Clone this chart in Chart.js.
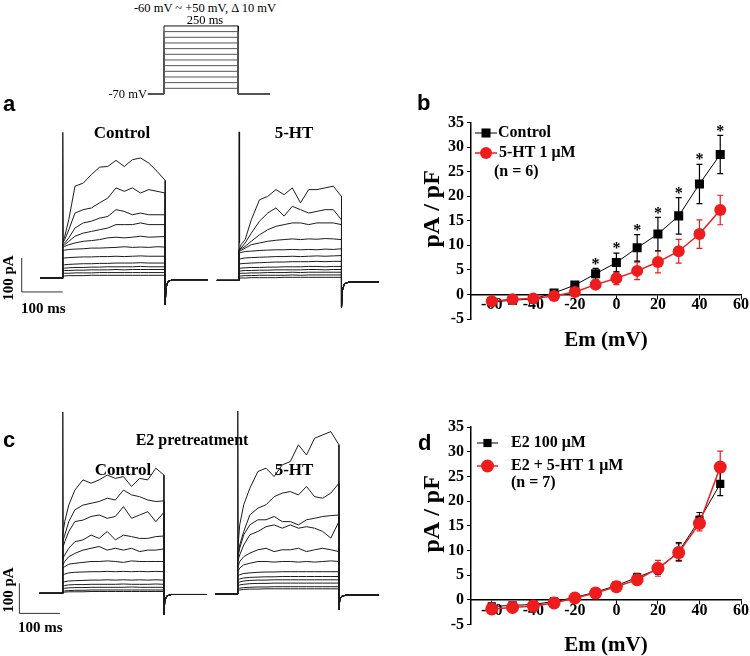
<!doctype html>
<html>
<head>
<meta charset="utf-8">
<script src="https://cdn.jsdelivr.net/npm/chart.js@4.4.1/dist/chart.umd.min.js"></script>
<style>
body { margin: 0; background: #fff; }
#fig { position: relative; width: 750px; height: 656px; overflow: hidden; font-family: 'Liberation Serif', serif; color: #000; }
#fig canvas { position: absolute; }
.t { position: absolute; white-space: nowrap; line-height: 1; }
.c { transform: translate(-50%, -50%); }
.lab { font-family: 'Liberation Sans', Arial, sans-serif; font-weight: bold; font-size: 22px; transform: translate(0, -50%); }
.hd { font-weight: bold; font-size: 17px; }
.pr { font-size: 12.5px; }
.sb { font-weight: bold; font-size: 15px; }
</style>
</head>
<body>
<div id="fig">
	<canvas id="proto" width="140" height="80" style="left:140px;top:20px"></canvas>
	<canvas id="rowA" width="390" height="220" style="left:0;top:100px"></canvas>
	<canvas id="rowC" width="390" height="235" style="left:0;top:400px"></canvas>
	<canvas id="ivB" width="340" height="245" style="left:410px;top:110px"></canvas>
	<canvas id="ivD" width="340" height="246" style="left:410px;top:410px"></canvas>

	<div class="t pr c" style="left:205px;top:8px">-60 mV ~ +50 mV, &Delta; 10 mV</div>
	<div class="t pr c" style="left:205px;top:20px">250 ms</div>
	<div class="t pr" style="left:147px;top:94px;transform:translate(-100%,-50%)">-70 mV</div>

	<div class="t lab" style="left:3px;top:104px">a</div>
	<div class="t lab" style="left:417px;top:103px">b</div>
	<div class="t lab" style="left:3px;top:440px">c</div>
	<div class="t lab" style="left:418px;top:443px">d</div>

	<div class="t hd c" style="left:122px;top:132px">Control</div>
	<div class="t hd c" style="left:294px;top:132px">5-HT</div>
	<div class="t hd c" style="left:192px;top:440px;font-size:16px">E2 pretreatment</div>
	<div class="t hd c" style="left:123px;top:469px">Control</div>
	<div class="t hd c" style="left:294px;top:469px">5-HT</div>

	<div class="t sb c" style="left:8px;top:278px;transform:translate(-50%,-50%) rotate(-90deg)">100 pA</div>
	<div class="t sb" style="left:21px;top:308px;transform:translate(0,-50%)">100 ms</div>
	<div class="t sb c" style="left:8px;top:590px;transform:translate(-50%,-50%) rotate(-90deg)">100 pA</div>
	<div class="t sb" style="left:18px;top:627px;transform:translate(0,-50%)">100 ms</div>
</div>
<script>
// voltage protocol
var stepLevels = [-60, -50, -40, -30, -20, -10, 0, 10, 20, 30, 40, 50];
var holdV = -70;
var protoT = [-54, 0, 250, 357];

// current traces (pA above holding level), sampled at stepT (ms after step onset)
var stepT = [0, 5, 15, 30, 50, 70, 90, 110, 130, 150, 170, 190, 210, 230, 250];
var tailT = [250, 252, 257, 268];

var aCtrl = [
	[103, 123, 172, 270, 279, 304, 326, 328, 346, 328, 348, 353, 338, 314, 287],
	[103, 113, 142, 191, 201, 206, 221, 235, 265, 255, 265, 250, 260, 255, 250],
	[98, 103, 118, 147, 162, 167, 176, 181, 201, 196, 186, 191, 186, 186, 186],
	[93, 98, 108, 123, 132, 137, 142, 147, 157, 157, 157, 162, 157, 157, 157],
	[88, 93, 98, 103, 108, 110, 113, 118, 120, 118, 120, 123, 120, 121, 122],
	[80, 82, 84, 85, 86, 88, 88, 89, 90, 92, 90, 91, 90, 92, 91],
	[58, 59, 60, 61, 62, 62, 63, 63, 64, 63, 64, 65, 64, 64, 64],
	[38, 39, 40, 41, 42, 42, 43, 43, 44, 44, 44, 45, 44, 44, 44],
	[28, 29, 30, 31, 31, 32, 32, 33, 33, 33, 33, 34, 33, 33, 33],
	[21, 22, 22, 23, 23, 24, 24, 24, 25, 24, 25, 25, 25, 25, 25],
	[13, 14, 14, 15, 15, 15, 16, 16, 16, 16, 16, 16, 16, 16, 16],
	[6, 6, 7, 7, 7, 8, 8, 8, 8, 8, 8, 8, 8, 8, 8]
];
var aCtrlTail = [-79, -28, -10, -5];
var aCtrlInfo = { start: -55, end: 354, spike: 429, hold: 0 };

var a5ht = [
	[90, 105, 120, 178, 237, 247, 267, 252, 272, 228, 267, 267, 272, 277, 247],
	[90, 95, 110, 139, 174, 198, 213, 189, 218, 208, 198, 203, 208, 208, 178],
	[90, 92, 100, 115, 134, 149, 159, 164, 169, 169, 164, 169, 169, 169, 164],
	[85, 88, 95, 105, 110, 115, 118, 120, 122, 120, 122, 121, 123, 122, 120],
	[80, 82, 85, 86, 88, 89, 90, 90, 91, 90, 91, 90, 92, 91, 93],
	[62, 64, 66, 67, 68, 69, 70, 70, 71, 70, 71, 72, 71, 72, 73],
	[48, 49, 50, 51, 52, 53, 54, 54, 55, 55, 55, 56, 55, 56, 56],
	[35, 36, 37, 38, 38, 39, 39, 40, 40, 40, 41, 41, 40, 41, 41],
	[27, 28, 29, 29, 30, 30, 31, 31, 31, 31, 32, 32, 31, 32, 32],
	[20, 21, 21, 22, 22, 23, 23, 23, 24, 23, 24, 24, 24, 24, 24],
	[13, 13, 14, 14, 15, 15, 15, 15, 16, 15, 16, 16, 16, 16, 16],
	[6, 7, 7, 8, 8, 8, 8, 9, 9, 9, 9, 9, 9, 9, 9]
];
var a5htTail = [-80, -30, -10, -5];
var a5htInfo = { start: -54, end: 341, spike: 437, hold: -7 };

var cCtrl = [
	[194, 239, 294, 344, 378, 367, 378, 394, 383, 389, 356, 383, 378, 417, 394],
	[172, 194, 239, 278, 294, 300, 306, 317, 311, 344, 328, 322, 311, 306, 308],
	[150, 172, 206, 239, 244, 256, 261, 250, 256, 289, 250, 261, 272, 239, 270],
	[117, 128, 150, 172, 178, 194, 183, 206, 178, 194, 189, 183, 183, 189, 191],
	[94, 106, 122, 133, 144, 150, 156, 144, 150, 144, 150, 139, 144, 144, 148],
	[83, 89, 97, 100, 103, 106, 106, 108, 106, 103, 108, 106, 106, 106, 106],
	[60, 64, 68, 70, 71, 72, 72, 73, 72, 73, 72, 73, 72, 73, 72],
	[36, 39, 41, 42, 43, 44, 44, 45, 44, 45, 44, 45, 44, 45, 44],
	[24, 26, 28, 29, 29, 30, 30, 30, 30, 31, 30, 30, 30, 31, 30],
	[15, 17, 18, 19, 19, 20, 20, 20, 20, 20, 21, 20, 20, 20, 20],
	[7, 8, 9, 10, 10, 11, 11, 11, 11, 11, 11, 11, 11, 11, 11],
	[3, 4, 5, 5, 5, 6, 6, 6, 6, 6, 6, 6, 6, 6, 6]
];
var cCtrlTail = [-72, -25, -9, -4];
var cCtrlInfo = { start: -58, end: 356, spike: 604, hold: 0 };

var c5ht = [
	[141, 230, 297, 352, 408, 419, 391, 430, 441, 497, 463, 519, 530, 541, 497],
	[119, 163, 208, 263, 286, 297, 324, 336, 341, 330, 358, 324, 319, 336, 369],
	[119, 152, 197, 230, 247, 247, 258, 241, 241, 230, 247, 252, 258, 261, 263],
	[108, 130, 163, 197, 208, 224, 230, 219, 230, 219, 224, 219, 208, 186, 241],
	[86, 108, 124, 136, 147, 152, 141, 147, 147, 152, 141, 147, 152, 147, 141],
	[74, 86, 97, 102, 108, 108, 106, 108, 108, 106, 108, 106, 108, 110, 108],
	[58, 64, 68, 70, 72, 73, 73, 74, 74, 74, 74, 74, 74, 74, 74],
	[44, 50, 53, 55, 56, 57, 57, 58, 58, 58, 58, 58, 58, 58, 58],
	[36, 40, 43, 45, 46, 46, 47, 47, 47, 47, 47, 47, 47, 47, 47],
	[26, 30, 32, 34, 35, 35, 36, 36, 36, 36, 36, 36, 36, 36, 36],
	[16, 19, 21, 22, 23, 23, 24, 24, 24, 24, 24, 24, 24, 24, 24],
	[10, 13, 15, 16, 16, 17, 17, 17, 17, 17, 17, 17, 17, 17, 17]
];
var c5htTail = [-53, -20, -8, -4];
var c5htInfo = { start: -56, end: 349, spike: 610, hold: -2 };

// I-V data (pA/pF, mean and SEM)
var ivV = [-60, -50, -40, -30, -20, -10, 0, 10, 20, 30, 40, 50];
var ctrlB = [-1.5, -1.2, -0.9, 0.3, 1.9, 4.2, 6.5, 9.5, 12.3, 16.0, 22.5, 28.5];
var ctrlBErr = [0.3, 0.3, 0.3, 0.4, 0.6, 1.1, 1.9, 2.7, 3.4, 3.7, 4.0, 3.9];
var htB = [-1.4, -1.0, -0.8, -0.3, 0.5, 2.0, 3.3, 4.8, 6.6, 8.8, 12.3, 17.2];
var htBErr = [0.3, 0.3, 0.3, 0.4, 0.5, 0.8, 1.3, 1.8, 2.2, 2.4, 2.9, 3.0];
var sigB = [-10, 0, 10, 20, 30, 40, 50];
var e2D = [-1.3, -1.1, -0.9, -0.3, 0.5, 1.6, 2.9, 4.6, 6.2, 9.8, 16.2, 23.5];
var e2DErr = [0.4, 0.4, 0.4, 0.4, 0.5, 0.5, 0.6, 0.8, 1.0, 1.8, 1.5, 2.4];
var e2htD = [-1.8, -1.5, -1.2, -0.6, 0.4, 1.4, 2.7, 4.1, 6.4, 9.6, 15.5, 26.9];
var e2htDErr = [0.5, 0.5, 0.5, 0.5, 0.6, 0.6, 0.8, 1.0, 1.6, 1.8, 1.5, 3.2];
var xTickVals = [-60, -40, -20, 0, 20, 40, 60];
var yTickVals = [-5, 0, 5, 10, 15, 20, 25, 30, 35];

var RED = '#ee1c1c';
var SERIF = "'Liberation Serif', 'Times New Roman', serif";

Chart.defaults.animation = false;
Chart.defaults.font.family = SERIF;
Chart.defaults.color = '#000';

// ---------- voltage protocol ----------
var protoSets = stepLevels.map(function(v) {
	return {
		data: [
			{x: protoT[0], y: holdV}, {x: protoT[1], y: holdV}, {x: protoT[1], y: v},
			{x: protoT[2], y: v}, {x: protoT[2], y: holdV}, {x: protoT[3], y: holdV}
		],
		borderColor: v === 50 ? '#111' : '#555', borderWidth: 1, pointRadius: 0, tension: 0
	};
});
new Chart(document.getElementById('proto'), {
	type: 'line',
	data: { datasets: protoSets },
	options: {
		responsive: false, devicePixelRatio: 1,
		layout: { padding: 0 },
		plugins: { legend: { display: false }, tooltip: { enabled: false } },
		scales: {
			x: { type: 'linear', display: false, min: -80.8, max: 390.6 },
			y: { type: 'linear', display: false, min: -80.6, max: 60.5 }
		}
	}
});

// ---------- current traces ----------
function traceSets(rows, tail, info, shift) {
	var sets = rows.map(function(r) {
		var pts = [{x: shift + info.start, y: info.hold}, {x: shift, y: info.hold}];
		stepT.forEach(function(t, i) { pts.push({x: shift + t, y: info.hold + r[i]}); });
		tailT.forEach(function(t, i) { pts.push({x: shift + t, y: info.hold + tail[i]}); });
		pts.push({x: shift + info.end, y: info.hold + tail[tail.length - 1]});
		return { data: pts, borderColor: '#1c1c1c', borderWidth: 1, pointRadius: 0, tension: 0 };
	});
	sets.push({
		data: [{x: shift, y: info.hold}, {x: shift + 0.3, y: info.hold + info.spike}, {x: shift + 1.2, y: info.hold + 110}],
		borderColor: '#111', borderWidth: 1.3, pointRadius: 0, tension: 0
	});
	return sets;
}

var scaleBar = {
	id: 'scaleBar',
	afterDatasetsDraw: function(chart, args, o) {
		var ctx = chart.ctx, xs = chart.scales.x, ys = chart.scales.y;
		var x0 = xs.getPixelForValue(o.t0), x1 = xs.getPixelForValue(o.t0 + o.dt);
		var y0 = ys.getPixelForValue(o.i0), y1 = ys.getPixelForValue(o.i0 + o.di);
		ctx.save();
		ctx.strokeStyle = '#333';
		ctx.lineWidth = 1;
		ctx.beginPath();
		ctx.moveTo(x0, y1); ctx.lineTo(x0, y0); ctx.lineTo(x1, y0);
		ctx.stroke();
		ctx.restore();
	}
};

function traceChart(id, sets, xr, yr, bar) {
	return new Chart(document.getElementById(id), {
		type: 'line',
		data: { datasets: sets },
		plugins: [scaleBar],
		options: {
			responsive: false, devicePixelRatio: 1,
			layout: { padding: 0 },
			plugins: { legend: { display: false }, tooltip: { enabled: false }, scaleBar: bar },
			scales: {
				x: { type: 'linear', display: false, min: xr[0], max: xr[1] },
				y: { type: 'linear', display: false, min: yr[0], max: yr[1] }
			}
		}
	});
}

traceChart('rowA',
	traceSets(aCtrl, aCtrlTail, aCtrlInfo, 0).concat(traceSets(a5ht, a5htTail, a5htInfo, 430)),
	[-152.9, 798.3], [-123.5, 523.5],
	{ t0: -100, dt: 100, i0: -41, di: 100 });

traceChart('rowC',
	traceSets(cCtrl, cCtrlTail, cCtrlInfo, 0).concat(traceSets(c5ht, c5htTail, c5htInfo, 432)),
	[-154.8, 808.1], [-139, 644.3],
	{ t0: -107, dt: 100, i0: -67, di: 100 });

// ---------- I-V plots ----------
function pts(ys) {
	return ivV.map(function(v, i) { return {x: v, y: ys[i]}; });
}

function drawMarker(ctx, ds, x, y) {
	var r = ds.pointRadius;
	ctx.fillStyle = ds.backgroundColor;
	if (ds.pointStyle === 'rect') {
		var s = Math.SQRT1_2 * r;
		ctx.fillRect(x - s, y - s, 2 * s, 2 * s);
	} else {
		ctx.beginPath();
		ctx.arc(x, y, r, 0, Math.PI * 2);
		ctx.fill();
	}
}

var errorBars = {
	id: 'errorBars',
	beforeDatasetsDraw: function(chart) {
		var ctx = chart.ctx, xs = chart.scales.x, ys = chart.scales.y;
		chart.data.datasets.forEach(function(ds) {
			ctx.save();
			ctx.strokeStyle = ds.borderColor;
			ctx.lineWidth = 1.2;
			ds.data.forEach(function(p, j) {
				var x = xs.getPixelForValue(p.x);
				var y1 = ys.getPixelForValue(p.y + ds.err[j]);
				var y2 = ys.getPixelForValue(p.y - ds.err[j]);
				ctx.beginPath();
				ctx.moveTo(x, y1); ctx.lineTo(x, y2);
				ctx.moveTo(x - 3, y1); ctx.lineTo(x + 3, y1);
				ctx.moveTo(x - 3, y2); ctx.lineTo(x + 3, y2);
				ctx.stroke();
			});
			ctx.restore();
		});
	}
};

var ivDecor = {
	id: 'ivDecor',
	afterDatasetsDraw: function(chart, args, o) {
		var ctx = chart.ctx, xs = chart.scales.x, ys = chart.scales.y;
		ctx.save();
		ctx.textBaseline = 'middle';
		// significance marks
		if (o.sig) {
			var ds = chart.data.datasets[o.sigDs];
			ctx.font = 'bold 16px ' + SERIF;
			ctx.textAlign = 'center';
			ctx.fillStyle = '#000';
			o.sig.forEach(function(v) {
				var j = ivV.indexOf(v);
				var top = ys.getPixelForValue(ds.data[j].y + ds.err[j]);
				ctx.fillText('*', xs.getPixelForValue(v), top - 4);
			});
		}
		// legend
		ctx.textAlign = 'left';
		ctx.font = 'bold 16px ' + SERIF;
		o.items.forEach(function(it) {
			var d = chart.data.datasets[it.ds];
			ctx.strokeStyle = d.borderColor;
			ctx.lineWidth = d.borderWidth;
			ctx.beginPath();
			ctx.moveTo(it.x1, it.y); ctx.lineTo(it.x2, it.y);
			ctx.stroke();
			drawMarker(ctx, d, (it.x1 + it.x2) / 2, it.y);
			ctx.fillStyle = '#000';
			ctx.fillText(d.label, it.tx, it.y);
		});
		ctx.fillStyle = '#000';
		o.notes.forEach(function(n) { ctx.fillText(n.text, n.x, n.y); });
		ctx.restore();
	}
};

function ivChart(id, sets, pad, decor) {
	var tickFont = { family: SERIF, weight: 'bold', size: 16 };
	var grid = { display: true, drawOnChartArea: false, drawTicks: true, tickLength: 4, color: '#000', lineWidth: 1 };
	var border = { display: true, color: '#000', width: 1.5 };
	return new Chart(document.getElementById(id), {
		type: 'line',
		data: { datasets: sets },
		plugins: [errorBars, ivDecor],
		options: {
			responsive: false, devicePixelRatio: 1,
			layout: { padding: pad },
			plugins: { legend: { display: false }, tooltip: { enabled: false }, ivDecor: decor },
			scales: {
				x: {
					type: 'linear', position: { y: 0 }, min: -70, max: 60,
					afterBuildTicks: function(s) { s.ticks = xTickVals.map(function(v) { return {value: v}; }); },
					ticks: { font: tickFont, padding: -3, maxRotation: 0, autoSkip: false },
					grid: grid, border: border,
					title: { display: true, text: 'Em (mV)', font: { family: SERIF, weight: 'bold', size: 21 }, padding: { top: 16, bottom: 2 } }
				},
				y: {
					type: 'linear', position: 'left', min: -5, max: 35,
					afterBuildTicks: function(s) { s.ticks = yTickVals.map(function(v) { return {value: v}; }); },
					afterFit: function(s) { s.width = 61; },
					ticks: { font: tickFont, padding: 3 },
					grid: grid, border: border,
					title: { display: true, text: '    pA / pF', font: { family: SERIF, weight: 'bold', size: 24 }, padding: { top: 8, bottom: 0 } }
				}
			}
		}
	});
}

ivChart('ivB', [
	{ label: '5-HT 1 \u03bcM', data: pts(htB), err: htBErr, borderColor: RED, backgroundColor: RED, borderWidth: 1.5,
	  pointStyle: 'circle', pointRadius: 6, pointBorderWidth: 0, order: 0, tension: 0 },
	{ label: 'Control', data: pts(ctrlB), err: ctrlBErr, borderColor: '#000', backgroundColor: '#000', borderWidth: 1,
	  pointStyle: 'rect', pointRadius: 6.4, pointBorderWidth: 0, order: 1, tension: 0 }
], { left: 0, top: 11.7, right: 9, bottom: 36 }, {
	sig: sigB, sigDs: 1,
	items: [ { ds: 1, x1: 65, x2: 87, y: 23, tx: 88 }, { ds: 0, x1: 65, x2: 87, y: 43, tx: 89 } ],
	notes: [ { text: '(n = 6)', x: 84, y: 62 } ]
});

ivChart('ivD', [
	{ label: 'E2 + 5-HT 1 \u03bcM', data: pts(e2htD), err: e2htDErr, borderColor: RED, backgroundColor: RED, borderWidth: 1.5,
	  pointStyle: 'circle', pointRadius: 6.5, pointBorderWidth: 0, order: 0, tension: 0 },
	{ label: 'E2 100 \u03bcM', data: pts(e2D), err: e2DErr, borderColor: '#000', backgroundColor: '#000', borderWidth: 1,
	  pointStyle: 'rect', pointRadius: 5.8, pointBorderWidth: 0, order: 1, tension: 0 }
], { left: 0, top: 17, right: 9, bottom: 31.3 }, {
	items: [ { ds: 1, x1: 67, x2: 88, y: 33, tx: 101 }, { ds: 0, x1: 67, x2: 88, y: 56, tx: 101 } ],
	notes: [ { text: '(n = 7)', x: 101, y: 73 } ]
});
</script>
</body>
</html>
